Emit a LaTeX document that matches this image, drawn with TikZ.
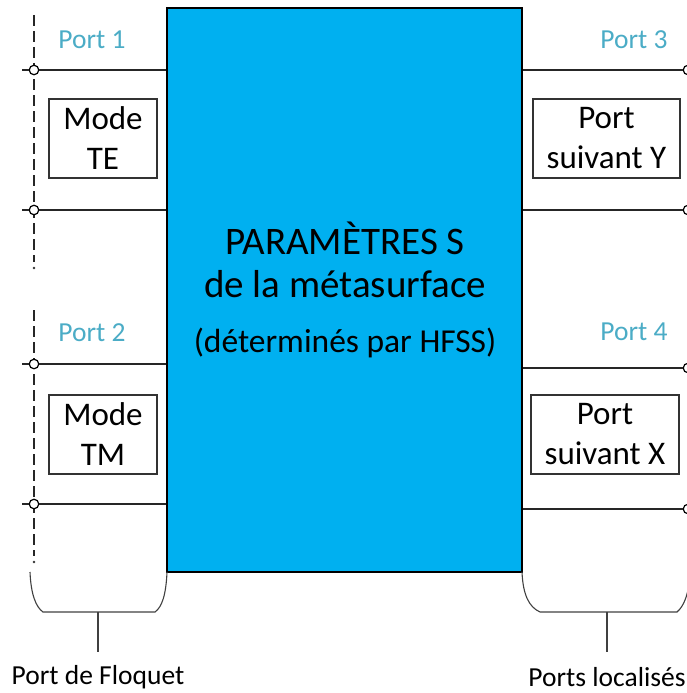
\documentclass[tikz,border=0pt]{standalone}
\usepackage{fontspec}
\setmainfont{Carlito}
\definecolor{boxcyan}{HTML}{00B0F0}
\definecolor{portblue}{HTML}{4BACC6}
\begin{document}
\begin{tikzpicture}[x=1pt,y=-1pt,
  conn/.style={draw=black!85, line width=1.6pt},
  term/.style={circle, draw=black, fill=white, line width=1.2pt, inner sep=0pt, minimum size=9.5pt},
  modebox/.style={draw=black!80, line width=1.3pt, align=center, inner sep=0pt, font=\fontsize{33}{40}\selectfont},
  portlbl/.style={text=portblue, font=\fontsize{27.5}{30}\selectfont},
  caption/.style={font=\fontsize{27.5}{32}\selectfont},
  dashline/.style={draw=black!85, line width=1.8pt, dash pattern=on 11pt off 5pt},
  brace/.style={draw=black!75, line width=1.1pt}]
\useasboundingbox (0,0) rectangle (687,693);
% main box
\node[draw=black, fill=boxcyan, line width=2.4pt, minimum width=355pt, minimum height=564pt, inner sep=0pt] (main) at (344.5,290) {};
\node[font=\fontsize{39}{44}\selectfont] (t1) at (345,238) {PARAMÈTRES S};
\node[font=\fontsize{39}{44}\selectfont] (t2) at (345,284) {de la métasurface};
\node[font=\fontsize{33.5}{38}\selectfont] (t3) at (345,343) {(déterminés par HFSS)};
% left dashed lines
\draw[dashline] (34,15) -- (34,262);
\fill[black!80] (34,268) circle (1.4pt);
\draw[dashline] (34,310) -- (34,556);
\fill[black!80] (34,562) circle (1.4pt);
% left terminals
\node[term] (l1) at (34,70) {};
\node[term] (l2) at (34,210) {};
\node[term] (l3) at (34,364) {};
\node[term] (l4) at (34,504) {};
\foreach \n/\y in {l1/70,l2/210,l3/364,l4/504}{
  \coordinate (\n t) at (22,\y);
  \draw[conn] (\n t) -- (\n);
  \draw[conn] (\n) -- (\n -| main.west);
}
% right terminals
\node[term] (r1) at (688,70) {};
\node[term] (r2) at (688,210) {};
\node[term] (r3) at (688,368) {};
\node[term] (r4) at (688,509) {};
\foreach \n in {r1,r2,r3,r4}{
  \draw[conn] (\n -| main.east) -- (\n);
}
% labels
\node[portlbl] (p1) at (92,40) {Port 1};
\node[portlbl] (p2) at (92,333) {Port 2};
\node[portlbl] (p3) at (634,40) {Port 3};
\node[portlbl] (p4) at (634,332) {Port 4};
% mode boxes
\node[modebox, minimum width=108pt, minimum height=79pt] (te) at (103,138.5) {Mode\\TE};
\node[modebox, minimum width=108pt, minimum height=79pt] (tm) at (103,434.5) {Mode\\TM};
\node[modebox, minimum width=147pt, minimum height=79pt] (py) at (606.5,138.5) {Port\\suivant Y};
\node[modebox, minimum width=148pt, minimum height=79pt] (px) at (605,434.5) {Port\\suivant X};
% brackets
\draw[brace] (30,572) .. controls (31,595) and (36,607) .. (43,612) -- (155,612) .. controls (162,607) and (166,595) .. (167,572);
\draw[brace] (522,572) .. controls (523,595) and (529,607) .. (540,612) -- (677,612) .. controls (684,606) and (687,596) .. (689,585);
\coordinate (bl) at (98,612);
\coordinate (br) at (607,612);
\node[caption] (cf) at (98,677) {Port de Floquet};
\node[caption] (cl) at (607,677) {Ports localisés};
\draw[brace] (bl) -- (98,652);
\draw[brace] (br) -- (607,652);
\end{tikzpicture}
\end{document}
